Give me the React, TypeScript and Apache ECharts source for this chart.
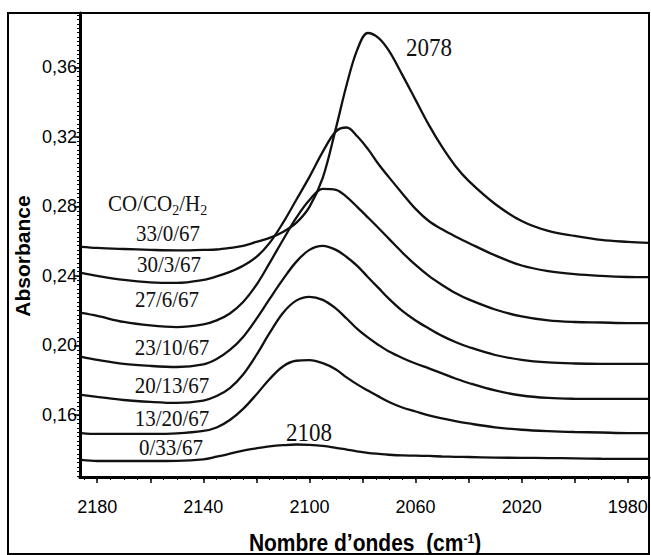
import React, { useEffect, useRef } from "react";
import * as echarts from "echarts";

const wavenumbers = [
  2186, 2180, 2170, 2160, 2150, 2140, 2135, 2130, 2125, 2120, 2115, 2110, 2105,
  2100, 2095, 2090, 2086, 2082, 2078, 2074, 2070, 2065, 2060, 2055, 2050, 2045,
  2040, 2030, 2020, 2010, 2000, 1990, 1980, 1972,
];

// Absorbance for each CO/CO2/H2 feed
const abs_33_0_67 = [
  0.2567, 0.2561, 0.2555, 0.255, 0.2547, 0.255, 0.2552, 0.2561, 0.2573, 0.2596,
  0.2619, 0.2653, 0.2705, 0.2797, 0.2964, 0.3252, 0.3499, 0.3701, 0.3798, 0.377,
  0.3695, 0.3557, 0.3413, 0.3269, 0.3142, 0.3033, 0.2947, 0.2814, 0.2716, 0.2659,
  0.263, 0.2607, 0.2596, 0.259,
];
const abs_30_3_67 = [
  0.2417, 0.24, 0.2377, 0.2363, 0.236, 0.2377, 0.2397, 0.2423, 0.2458, 0.2509,
  0.259, 0.2705, 0.2837, 0.297, 0.3114, 0.3232, 0.3254, 0.3204, 0.3131, 0.3044,
  0.2967, 0.2875, 0.2786, 0.2716, 0.2668, 0.2627, 0.259, 0.2518, 0.246, 0.2428,
  0.241, 0.24, 0.2394, 0.2393,
];
const abs_27_6_67 = [
  0.2187, 0.217, 0.2135, 0.2115, 0.2106, 0.2121, 0.2144, 0.2184, 0.225, 0.2348,
  0.2475, 0.2607, 0.2734, 0.2837, 0.2901, 0.2895, 0.2855, 0.2797, 0.2737, 0.2676,
  0.2613, 0.2535, 0.2463, 0.24, 0.2348, 0.2302, 0.2265, 0.2207, 0.2167, 0.2144,
  0.2135, 0.2132, 0.2129, 0.2129,
];
const abs_23_10_67 = [
  0.1934, 0.1917, 0.1894, 0.1882, 0.1876, 0.1891, 0.1922, 0.1974, 0.2049, 0.2153,
  0.2268, 0.238, 0.2481, 0.255, 0.2573, 0.255, 0.2509, 0.2458, 0.2394, 0.2331,
  0.2268, 0.2199, 0.2144, 0.2098, 0.2055, 0.202, 0.1991, 0.1945, 0.1917, 0.1902,
  0.1896, 0.1894, 0.1894, 0.1894,
];
const abs_20_13_67 = [
  0.1715, 0.1704, 0.1686, 0.1675, 0.1669, 0.1683, 0.1709, 0.1755, 0.1833, 0.1945,
  0.2072, 0.2187, 0.2258, 0.228, 0.2262, 0.2212, 0.2155, 0.2095, 0.2046, 0.2003,
  0.1965, 0.1928, 0.1896, 0.1868, 0.1839, 0.181, 0.1784, 0.1741, 0.1712, 0.1698,
  0.1693, 0.1692, 0.1692, 0.1692,
];
const abs_13_20_67 = [
  0.1496, 0.1491, 0.1491, 0.1491, 0.1494, 0.1508, 0.1528, 0.1571, 0.1635, 0.1718,
  0.1807, 0.1879, 0.1912, 0.1915, 0.1898, 0.1862, 0.1816, 0.1776, 0.1741, 0.1707,
  0.1675, 0.1643, 0.162, 0.1597, 0.158, 0.1564, 0.1551, 0.1529, 0.1515, 0.1507,
  0.1502, 0.1499, 0.1496, 0.1496,
];
const abs_0_33_67 = [
  0.1341, 0.1335, 0.1335, 0.1335, 0.1336, 0.1345, 0.136, 0.1377, 0.1395, 0.1408,
  0.1419, 0.1426, 0.143, 0.1428, 0.1422, 0.1411, 0.1401, 0.1391, 0.1382, 0.1376,
  0.1371, 0.1367, 0.1366, 0.1364, 0.1361, 0.1359, 0.1358, 0.1355, 0.1353, 0.1352,
  0.135, 0.1348, 0.1347, 0.1347,
];

const seriesNames = [
  "33/0/67", "30/3/67", "27/6/67", "23/10/67", "20/13/67", "13/20/67", "0/33/67",
];
const seriesValues = [
  abs_33_0_67, abs_30_3_67, abs_27_6_67, abs_23_10_67, abs_20_13_67, abs_13_20_67, abs_0_33_67,
];

// Axis ticks and labels
const xLabelValues = [2180, 2140, 2100, 2060, 2020, 1980];
const xMajorTicks = [2180, 2160, 2140, 2120, 2100, 2080, 2060, 2040, 2020, 2000, 1980];
const yLabelValues = [0.16, 0.2, 0.24, 0.28, 0.32, 0.36];
const X_MIN = 1972;
const X_MAX = 2186.5;
const Y_MIN = 0.1243;
const Y_MAX = 0.3913;

const peakLabels = ["2078", "2108"];

export default function App() {
  const ref = useRef<HTMLDivElement>(null);
  useEffect(() => {
    const chart = echarts.init(ref.current!, undefined, { renderer: "svg" });
    const xMinorTicks: number[] = [];
    for (let v = 1975; v <= 2185; v += 5) xMinorTicks.push(v);
    const yMinorTicks: number[] = [];
    for (let k = 50; k <= 390; k += 2.5) yMinorTicks.push(k / 1000);

    const sans = "Liberation Sans, Arial, sans-serif";
    const serif = "Liberation Serif, Times New Roman, serif";

    const labelPos = [
      [168, 233], [169, 264], [167, 299], [172, 347], [172, 385], [172, 418], [171, 447],
    ];

    const serifText = (text: string, x: number, y: number, size = 21) => ({
      type: "text",
      x,
      y,
      scaleY: 1.1,
      style: {
        text,
        fill: "#111",
        fontFamily: serif,
        fontSize: size,
        align: "center",
        verticalAlign: "middle",
        textAlign: "center",
        textVerticalAlign: "middle",
      },
    });

    chart.setOption({
      animation: false,
      backgroundColor: "#fff",
      grid: { left: 80, top: 13, right: 2, bottom: 78, containLabel: false, outerBoundsMode: "none" },
      xAxis: [
        {
          type: "value",
          inverse: true,
          min: X_MIN,
          max: X_MAX,
          axisLine: { onZero: false, lineStyle: { color: "#000", width: 3 } },
          axisTick: { customValues: xMajorTicks, length: 6, lineStyle: { color: "#000", width: 1.5 } },
          axisLabel: {
            customValues: xLabelValues,
            formatter: (v: number) => String(Math.round(v)),
            color: "#000",
            fontFamily: sans,
            fontSize: 18,
            margin: 21,
          },
          splitLine: { show: false },
        },
        {
          type: "value",
          inverse: true,
          min: X_MIN,
          max: X_MAX,
          position: "bottom",
          axisLine: { show: false, onZero: false },
          axisTick: { customValues: xMinorTicks, length: 3, lineStyle: { color: "#000", width: 1 } },
          axisLabel: { show: false },
          splitLine: { show: false },
        },
      ],
      yAxis: [
        {
          type: "value",
          min: Y_MIN,
          max: Y_MAX,
          axisLine: { onZero: false, lineStyle: { color: "#000", width: 3 } },
          axisTick: { customValues: yLabelValues, length: 6, lineStyle: { color: "#000", width: 1.5 } },
          axisLabel: {
            customValues: yLabelValues,
            formatter: (v: number) => v.toFixed(2).replace(".", ","),
            color: "#000",
            fontFamily: sans,
            fontSize: 18,
            margin: 3,
          },
          splitLine: { show: false },
        },
        {
          type: "value",
          min: Y_MIN,
          max: Y_MAX,
          position: "left",
          axisLine: { show: false, onZero: false },
          axisTick: { customValues: yMinorTicks.filter((v) => v > Y_MIN && v < Y_MAX), length: 3, lineStyle: { color: "#000", width: 1 } },
          axisLabel: { show: false },
          splitLine: { show: false },
        },
      ],
      series: seriesValues.map((vals, i) => ({
        name: seriesNames[i],
        type: "line",
        xAxisIndex: 0,
        yAxisIndex: 0,
        showSymbol: false,
        smooth: 0.35,
        lineStyle: { color: "#111", width: 2.3 },
        data: wavenumbers.map((w, j) => [w, vals[j]]),
        z: 3,
      })),
      graphic: [
        {
          type: "rect",
          shape: { x: 8, y: 13, width: 641, height: 541 },
          style: { fill: "none", stroke: "#000", lineWidth: 2 },
          z: 10,
        },
        {
          type: "text",
          x: 22,
          y: 256,
          rotation: Math.PI / 2,
          style: {
            text: "Absorbance",
            fill: "#000",
            fontFamily: sans,
            fontWeight: "bold",
            fontSize: 21,
            align: "center",
            verticalAlign: "middle",
            textAlign: "center",
            textVerticalAlign: "middle",
          },
        },
        {
          type: "text",
          x: 365,
          y: 543,
          scaleY: 1.12,
          style: {
            text: "{a|Nombre d\u2019ondes  (cm}{s|-1}{a|)}",
            fill: "#000",
            align: "center",
            verticalAlign: "middle",
            textAlign: "center",
            textVerticalAlign: "middle",
            rich: {
              a: { fontFamily: sans, fontWeight: "bold", fontSize: 21, fill: "#000" },
              s: { fontFamily: sans, fontWeight: "bold", fontSize: 12, fill: "#000", verticalAlign: "top" },
            },
          },
        },
        {
          type: "text",
          x: 108,
          y: 203,
          scaleY: 1.1,
          style: {
            text: "{a|CO/CO}{s|2}{a|/H}{s|2}",
            fill: "#111",
            align: "left",
            verticalAlign: "middle",
            textAlign: "left",
            textVerticalAlign: "middle",
            rich: {
              a: { fontFamily: serif, fontSize: 21, lineHeight: 26, fill: "#111" },
              s: { fontFamily: serif, fontSize: 14, lineHeight: 10, fill: "#111", verticalAlign: "bottom" },
            },
          },
        },
        ...seriesNames.map((n, i) => serifText(n, labelPos[i][0], labelPos[i][1])),
        serifText(peakLabels[0], 429, 47, 23),
        serifText(peakLabels[1], 309, 432, 23),
      ],
    });
    return () => chart.dispose();
  }, []);
  return (
    <div
      ref={ref}
      style={{ position: "absolute", left: 0, top: 0, width: 651, height: 555 }}
    />
  );
}
